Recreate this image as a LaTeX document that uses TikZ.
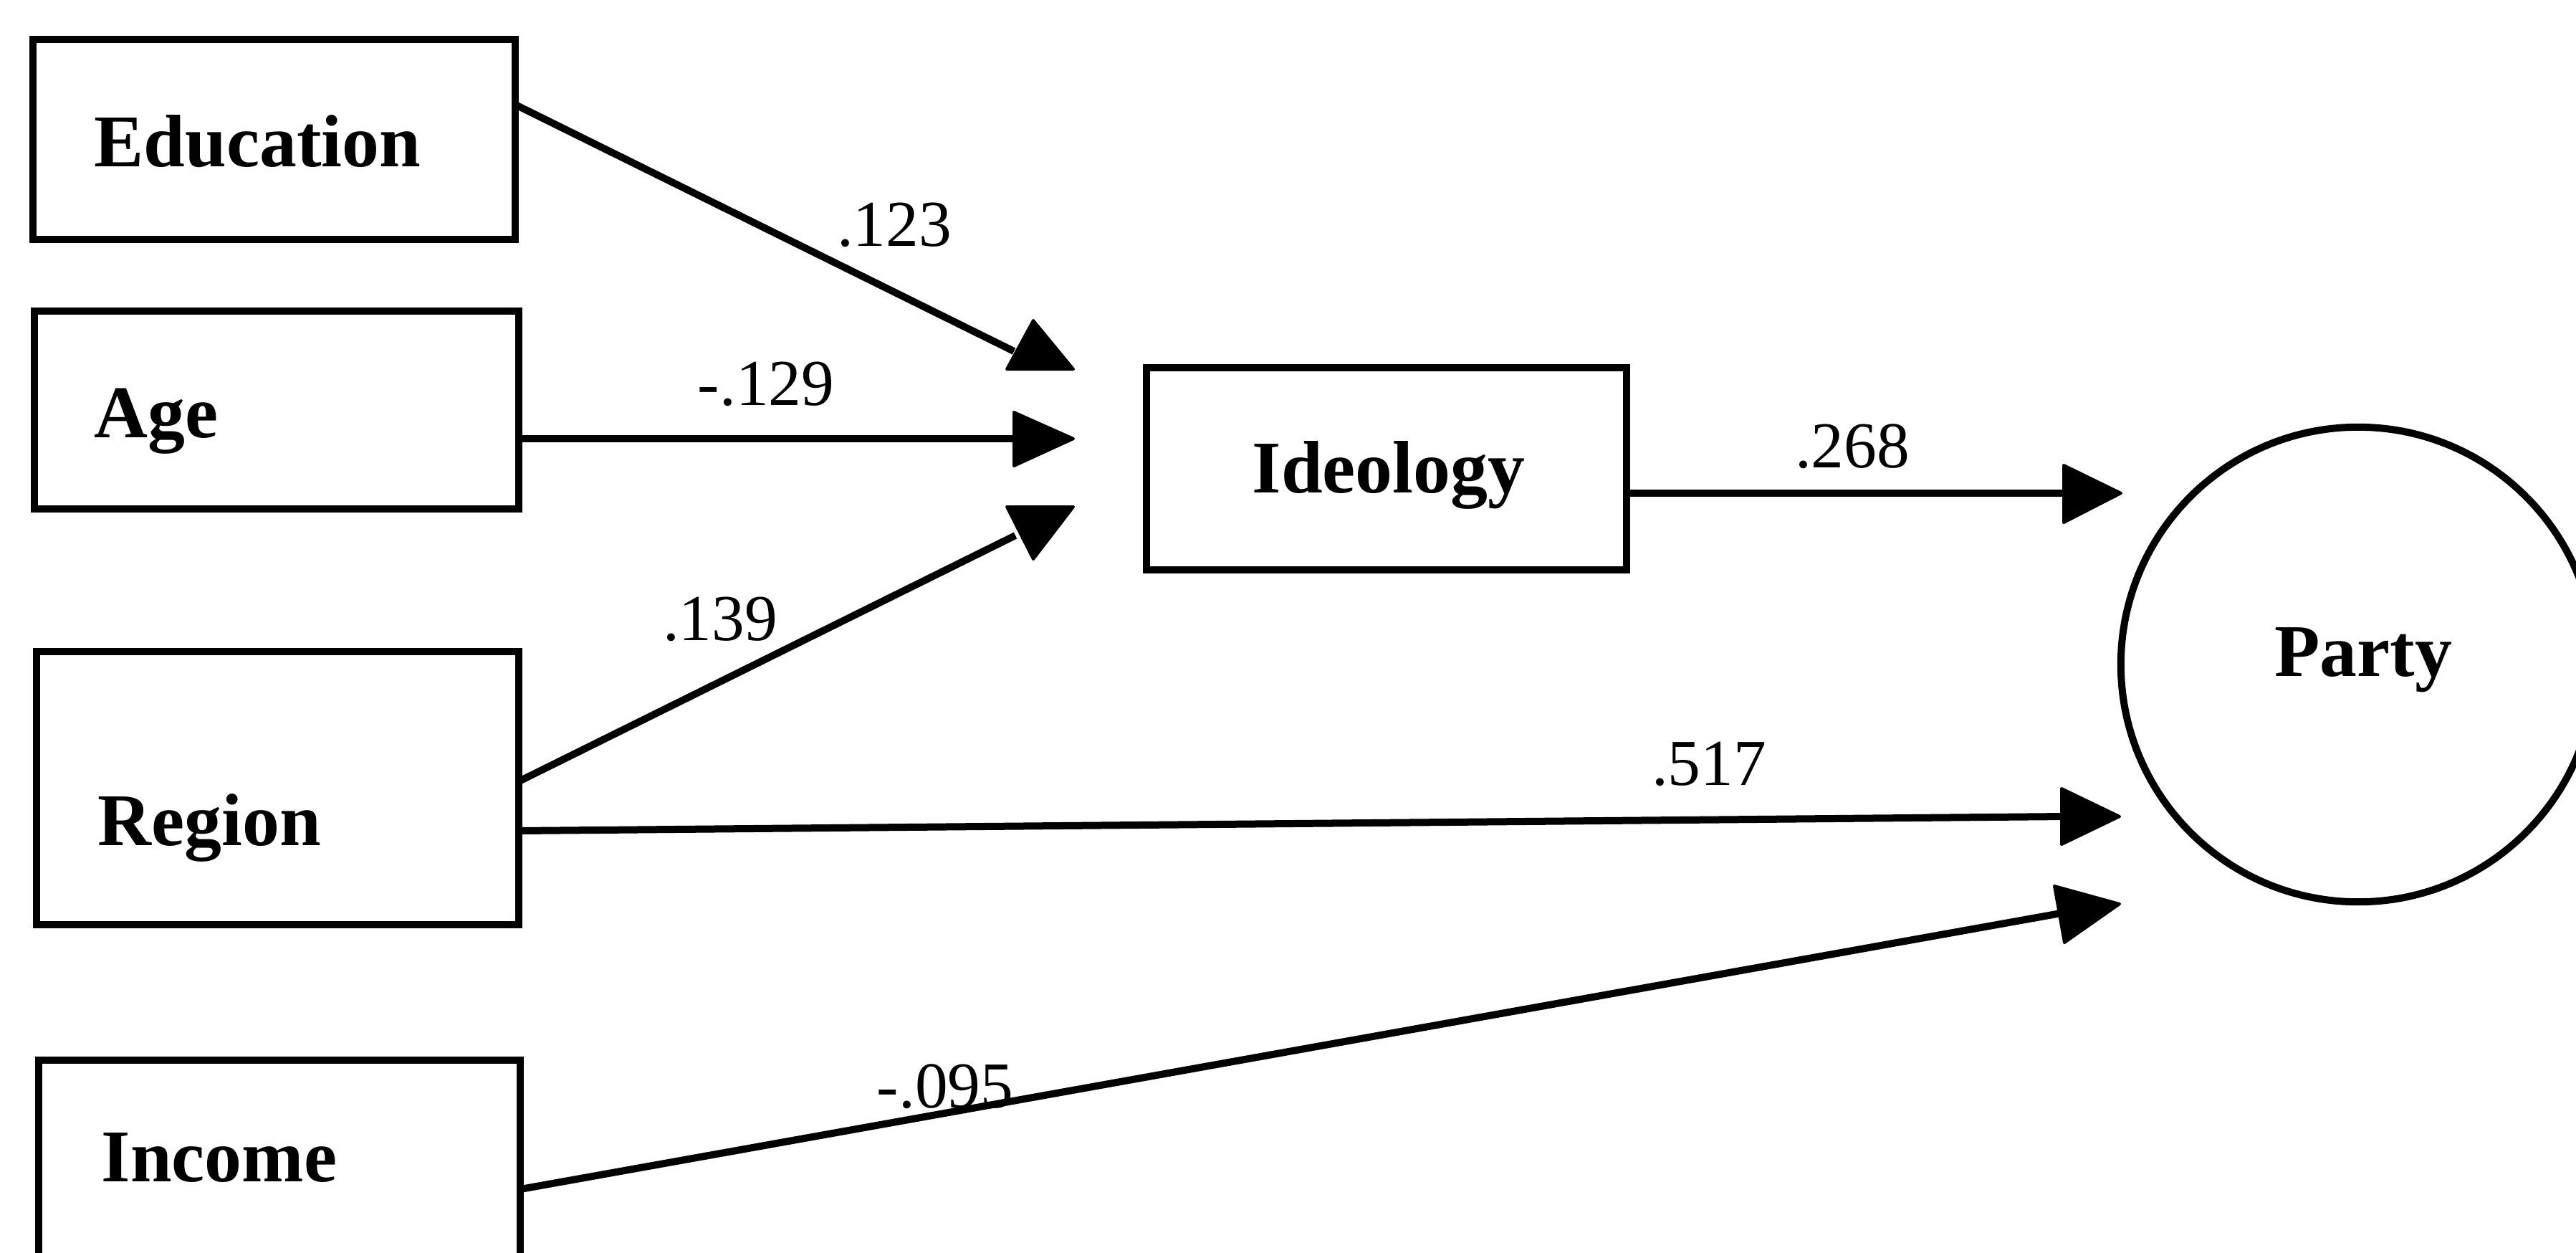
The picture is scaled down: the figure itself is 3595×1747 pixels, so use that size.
\documentclass[tikz,border=0pt]{standalone}
\usepackage{fontspec}
\setmainfont{Liberation Serif}
\begin{document}
\begin{tikzpicture}[x=0.01cm,y=-0.01cm,
  box/.style={draw, line width=1mm, rectangle, inner sep=0pt, outer sep=0pt},
  lbl/.style={font=\bfseries\fontsize{29.5}{31}\selectfont, anchor=base west, inner sep=0pt},
  num/.style={font=\fontsize{26}{28}\selectfont, anchor=base, inner sep=0pt},
  conn/.style={line width=1mm},
  head/.style={fill=black, draw=black, line width=0.4mm, line join=round}]
\useasboundingbox (0,0) rectangle (3595,1747);
\clip (0,0) rectangle (3595,1747);
\fill[white] (0,0) rectangle (3595,1747);
% boxes
\node[box, minimum width=6.73cm, minimum height=2.79cm] (edu) at (382.5,194.5) {};
\node[box, minimum width=6.76cm, minimum height=2.76cm] (age) at (386,572) {};
\node[box, minimum width=6.73cm, minimum height=3.81cm] (reg) at (387.5,1099.5) {};
\node[box, minimum width=6.72cm, minimum height=4.21cm] (inc) at (390,1689.5) {};
\node[box, minimum width=6.70cm, minimum height=2.82cm] (ideo) at (1935,654) {};
\node[draw, line width=1mm, circle, minimum size=6.62cm, inner sep=0pt, outer sep=0pt] (party) at (3291,927) {};
% texts
\node[lbl] (tedu) at (131,232) {Education};
\node[lbl] (tage) at (131,610) {Age};
\node[lbl] (treg) at (136,1179) {Region};
\node[lbl] (tinc) at (141,1648) {Income};
\node[lbl] (tideo) at (1747,687) {Ideology};
\node[lbl, anchor=base] (tparty) at (3298,943) {Party};
% arrow end coordinates
\coordinate (e1) at (1415,490);
\coordinate (a1) at (1420,612);
\coordinate (r1) at (1417,747);
\coordinate (i1) at (2885,688);
\coordinate (r2) at (2880,1139);
\coordinate (n1) at (2876,1274);
% connectors
\draw[conn] (edu.east |- 0,146) -- (e1);
\fill[head] (1405,515) -- (1498,515) -- (1442,447) -- cycle;
\draw[conn] (age.east |- 0,612) -- (a1);
\fill[head] (1415,575) -- (1415,650) -- (1498,612) -- cycle;
\draw[conn] (reg.east |- 0,1090) -- (r1);
\fill[head] (1405,707) -- (1498,707) -- (1442,780) -- cycle;
\draw[conn] (ideo.east |- 0,688) -- (i1);
\fill[head] (2880,649) -- (2880,729) -- (2960,688) -- cycle;
\draw[conn] (reg.east |- 0,1159) -- (r2);
\fill[head] (2877,1100) -- (2877,1178) -- (2958,1139) -- cycle;
\draw[conn] (inc.east |- 0,1659) -- (n1);
\fill[head] (2867,1236) -- (2881,1315) -- (2958,1261) -- cycle;
% coefficients
\node[num] (l123) at (1248,343) {.123};
\node[num] (l129) at (1069,565) {-.129};
\node[num] (l139) at (1005,893) {.139};
\node[num] (l268) at (2585,652) {.268};
\node[num] (l517) at (2385,1095) {.517};
\node[num] (l095) at (1319,1545) {-.095};
\end{tikzpicture}
\end{document}
